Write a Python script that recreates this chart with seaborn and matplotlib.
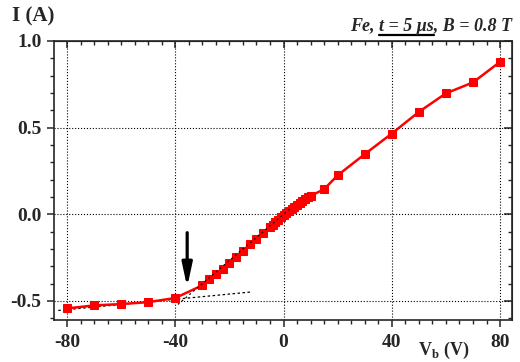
import numpy as np
import pandas as pd
import matplotlib
matplotlib.use('Agg')
import matplotlib.pyplot as plt
import seaborn as sns
from matplotlib.lines import Line2D
from matplotlib.ticker import MultipleLocator

# bias voltage (V) and current (A)
vb = [-80, -70, -60, -50, -40, -30, -27.5, -25, -22.5, -20, -17.5, -15, -12.5, -10, -7.5, -5,
      -4, -3, -2, -1, 0, 1, 2, 3, 4, 5, 6, 7, 8, 9, 10, 15, 20, 30, 40, 50, 60, 70, 80]
cur = [-0.543, -0.526, -0.518, -0.507, -0.483, -0.41, -0.376, -0.347, -0.318, -0.283, -0.245,
       -0.212, -0.173, -0.14, -0.106, -0.074, -0.06, -0.046, -0.032, -0.018, -0.004, 0.008,
       0.02, 0.032, 0.043, 0.055, 0.066, 0.077, 0.087, 0.097, 0.106, 0.145, 0.225, 0.347,
       0.466, 0.591, 0.698, 0.761, 0.88]

# dotted guide lines (low-bias fit and linear-region fit)
fit_low_v = [-83.2, -12.4]
fit_low_i = [-0.555, -0.449]
fit_lin_v = [-39, 3]
fit_lin_i = [-0.52, 0.04]

df = pd.DataFrame({'Vb': vb, 'I': cur})

sns.set_style('ticks')
plt.rcParams['font.family'] = ['Liberation Serif', 'DejaVu Serif']
plt.rcParams['font.weight'] = 'bold'
plt.rcParams['axes.unicode_minus'] = False
plt.rcParams['mathtext.fontset'] = 'custom'
plt.rcParams['mathtext.rm'] = 'Liberation Serif:bold'
plt.rcParams['mathtext.bf'] = 'Liberation Serif:bold'

fig = plt.figure(figsize=(5.2, 3.62), dpi=100)
ax = fig.add_axes([54/520, 1-320/362, (512-54)/520, (320-41)/362])

ax.grid(True, which='major', color='black', linestyle=':', linewidth=0.8)
ax.set_axisbelow(True)

ax.plot(fit_low_v, fit_low_i, color='black', linestyle=(0, (2, 2)), linewidth=0.9, zorder=1)
sns.lineplot(data=df, x='Vb', y='I', color='red', marker='s', markersize=6,
             markeredgecolor='red', linewidth=1.8, ax=ax, zorder=2)
ax.plot(fit_lin_v, fit_lin_i, color='black', linestyle=(0, (1.5, 2.5)), linewidth=0.9, zorder=3)

ax.annotate('', xy=(-35.6, -0.437), xytext=(-35.6, -0.09),
            arrowprops=dict(arrowstyle='-|>,head_width=0.3,head_length=1.4',
                            color='black', lw=2.3))

ax.set_xlim(-84.8, 84.4)
ax.set_ylim(-0.61, 1.0)
ax.xaxis.set_major_locator(MultipleLocator(40))
ax.xaxis.set_minor_locator(MultipleLocator(5))
ax.yaxis.set_major_locator(MultipleLocator(0.5))
ax.yaxis.set_minor_locator(MultipleLocator(0.1))
ax.set_xticks([-80, -40, 0, 40, 80])
ax.set_yticks([-0.5, 0.0, 0.5, 1.0])
ax.set_yticklabels(['-0.5', '0.0', '0.5', '1.0'])
ax.set_xlabel('')
ax.set_ylabel('')
for s in ax.spines.values():
    s.set_linewidth(1.2)
    s.set_visible(True)
ax.tick_params(which='major', direction='out', length=5, width=1.1, labelsize=14, pad=5)
ax.tick_params(which='minor', direction='out', length=3, width=1.0)
ax.tick_params(axis='y', which='major', pad=4)
for lbl in ax.get_xticklabels() + ax.get_yticklabels():
    lbl.set_fontweight('bold')

top = ax.secondary_xaxis('top')
top.xaxis.set_major_locator(MultipleLocator(40))
top.xaxis.set_minor_locator(MultipleLocator(5))
top.tick_params(which='major', direction='in', length=5, width=1.1, labeltop=False)
top.tick_params(which='minor', direction='in', length=3, width=1.0)
right = ax.secondary_yaxis('right')
right.yaxis.set_major_locator(MultipleLocator(0.5))
right.yaxis.set_minor_locator(MultipleLocator(0.1))
right.tick_params(which='major', direction='in', length=6, width=1.1, labelright=False)
right.tick_params(which='minor', direction='in', length=3, width=1.0)

fig.text(12/520, 1-21/362, 'I (A)', fontsize=15, fontweight='bold')
fig.text(418/520, 1-355/362, r'V$_\mathbf{b}$ (V)', fontsize=13, fontweight='bold', va='baseline')

# top-right annotation with underlined middle part
full = 'Fe, t = 5 \u03bcs, B = 0.8 T'
txt_kw = dict(fontsize=13, fontweight='bold', style='italic')
t_full = fig.text(512/520, 1-31/362, full, ha='right', va='baseline', **txt_kw)
fig.canvas.draw()
r = fig.canvas.get_renderer()
bb = t_full.get_window_extent(r)


def width_of(s):
    t = fig.text(0, 0, s, alpha=0, **txt_kw)
    w = t.get_window_extent(r).width
    t.remove()
    return w


w1 = width_of('Fe, t') - width_of('t')
w2 = width_of('Fe, t = 5 \u03bcs')
W = fig.bbox.width
H = fig.bbox.height
y_ul = (1-31/362) - 4/H
fig.add_artist(Line2D([(bb.x0 + w1)/W, (bb.x0 + w2)/W], [y_ul, y_ul],
                      transform=fig.transFigure, color='black', linewidth=1.6))

fig.savefig('out.png', dpi=100)
